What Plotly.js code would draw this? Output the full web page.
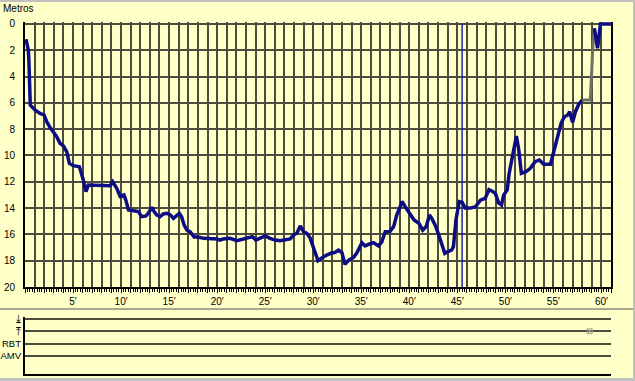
<!DOCTYPE html>
<html>
<head>
<meta charset="utf-8">
<script src="https://cdn.plot.ly/plotly-3.0.1.min.js"></script>
<style>
  html, body { margin: 0; padding: 0; background: #c0c0c0; width: 635px; height: 381px; overflow: hidden; }
  #chart { position: absolute; left: 0; top: 2px; width: 633px; height: 376px; }
</style>
</head>
<body>
<div id="chart"></div>
<script>
// ---- data (minutes / metres) ----
const diveMinutes = [0.1, 0.35, 0.4, 0.45, 0.5, 0.55, 1.04, 1.56, 1.98, 2.26, 2.6, 2.95, 3.3, 3.65, 4.0, 4.34, 4.62, 5.04, 5.66, 6.07, 6.35, 6.6, 6.9, 8.16, 8.85, 9.13, 9.55, 9.9, 10.3, 10.5, 10.77, 11.3, 11.8, 12.15, 12.6, 12.95, 13.2, 13.44, 13.7, 14.06, 14.4, 14.76, 15.1, 15.45, 15.73, 16.07, 16.3, 16.56, 16.84, 17.2, 17.6, 18.0, 18.6, 19.3, 20.0, 20.3, 20.6, 21.35, 22.05, 22.74, 23.26, 23.68, 24.03, 24.48, 25.0, 25.5, 26.04, 26.56, 27.08, 27.6, 27.95, 28.3, 28.65, 29.0, 29.34, 29.7, 29.93, 30.2, 30.5, 30.9, 31.4, 31.95, 32.2, 32.64, 33.0, 33.3, 33.7, 34.2, 34.55, 35.07, 35.4, 35.87, 36.28, 36.8, 37.15, 37.5, 38.0, 38.37, 38.7, 39.06, 39.24, 39.58, 40.1, 40.5, 41.0, 41.4, 41.77, 42.1, 42.36, 42.7, 43.05, 43.4, 43.7, 44.03, 44.4, 44.6, 44.86, 45.2, 45.5, 45.83, 46.35, 46.9, 47.4, 47.9, 48.3, 48.6, 48.96, 49.3, 49.6, 49.83, 50.2, 50.4, 50.76, 51.15, 51.4, 51.67, 52.15, 52.6, 53.1, 53.54, 54.0, 54.7, 55.0, 55.4, 55.8, 56.15, 56.5, 56.7, 57.0, 57.3, 57.64, 58.0];
const diveDepth = [1.16, 2.0, 2.7, 4.0, 5.15, 6.16, 6.54, 6.8, 6.92, 7.43, 7.86, 8.19, 8.57, 9.07, 9.28, 9.71, 10.6, 10.77, 10.85, 11.86, 12.75, 12.24, 12.24, 12.3, 12.3, 12.0, 12.5, 13.1, 13.0, 13.4, 14.14, 14.2, 14.27, 14.65, 14.6, 14.27, 13.94, 14.27, 14.52, 14.65, 14.45, 14.4, 14.5, 14.78, 14.6, 14.4, 14.65, 15.28, 15.67, 15.8, 16.2, 16.2, 16.3, 16.3, 16.35, 16.43, 16.35, 16.3, 16.48, 16.35, 16.25, 16.17, 16.43, 16.3, 16.12, 16.3, 16.43, 16.48, 16.43, 16.35, 16.05, 15.92, 15.36, 15.8, 15.92, 16.3, 16.8, 17.44, 18.0, 17.8, 17.57, 17.4, 17.4, 17.2, 17.4, 18.28, 17.95, 17.75, 17.4, 16.63, 16.88, 16.73, 16.63, 16.88, 16.55, 15.8, 15.77, 15.41, 14.52, 13.9, 13.5, 13.9, 14.52, 14.9, 15.15, 15.67, 15.4, 14.52, 14.8, 15.3, 16.0, 16.8, 17.44, 17.3, 17.2, 16.93, 14.9, 13.5, 13.55, 14.0, 14.0, 13.9, 13.4, 13.26, 12.6, 12.7, 12.88, 13.6, 13.76, 13.0, 12.62, 11.36, 9.96, 8.52, 9.58, 11.36, 11.23, 10.98, 10.47, 10.34, 10.67, 10.67, 9.83, 8.69, 7.55, 7.05, 6.92, 6.67, 7.48, 6.67, 6.1, 5.78];
// fast-ascent part (drawn grey)
const ascentMinutes = [58.0, 58.85, 59.1, 59.27];
const ascentDepth = [5.78, 5.78, 1.85, 0.33];
// surface part
const surfaceMinutes = [59.27, 59.6, 59.9, 61.0];
const surfaceDepth = [0.33, 1.85, 0.0, 0.0];
// cursor marker
const cursorMinute = [45.5, 45.5];
const cursorDepth = [0, 20];
// small event mark in lower panel
const eventMinute = [58.78];
const eventRow = [3];

// ---- tick labels ----
const xLabelMinutes = [5, 10, 15, 20, 25, 30, 35, 40, 45, 50, 55, 60];
const xLabels = ["5′", "10′", "15′", "20′", "25′", "30′", "35′", "40′", "45′", "50′", "55′", "60′"];
const depthTicks = [0, 2, 4, 6, 8, 10, 12, 14, 16, 18, 20];
const panelRows = [4, 3, 2, 1];
const panelLabels = ["⤓", "⤒", "RBT", "AMV"];

const minuteTicks = [];
for (let m = 0; m <= 61; m++) minuteTicks.push(m);
const minuteText = minuteTicks.map(m => {
  const i = xLabelMinutes.indexOf(m);
  return i >= 0 ? xLabels[i] : "";
});
const panelText = panelLabels.map((t, i) => i < 2
  ? "<span style='font-family:DejaVu Sans;font-size:10.5px'>" + t + "</span>"
  : "<span style='font-size:9.5px'>" + t + "</span>");

const gridCol = '#4c4c3c';
const traces = [
  { x: cursorMinute, y: cursorDepth, mode: 'lines', line: { color: '#2424b4', width: 1.5 }, hoverinfo: 'skip' },
  { x: diveMinutes, y: diveDepth, mode: 'lines', line: { color: '#0c0c84', width: 3.5 } },
  { x: ascentMinutes, y: ascentDepth, mode: 'lines', line: { color: '#707060', width: 3 } },
  { x: surfaceMinutes, y: surfaceDepth, mode: 'lines', line: { color: '#0c0c84', width: 3.5 } },
  { x: eventMinute, y: eventRow, xaxis: 'x2', yaxis: 'y2', mode: 'markers',
    marker: { symbol: 'square-x-open', size: 5, color: '#a8a898', line: { width: 1, color: '#a8a898' } } }
];

const layout = {
  width: 633, height: 376,
  margin: { l: 25, r: 22, t: 20, b: 4 },
  paper_bgcolor: '#ffffc8', plot_bgcolor: '#ffffc8',
  showlegend: false,
  font: { family: 'Liberation Sans, Arial, sans-serif', size: 10, color: '#000' },
  title: { text: 'Metros', x: 3 / 633, xanchor: 'left', xref: 'container', y: 1 - 6 / 376, yanchor: 'middle', yref: 'container', font: { size: 10, color: '#000' } },
  xaxis: {
    domain: [0, 1], range: [0, 61], anchor: 'y',
    tickmode: 'array', tickvals: minuteTicks, ticktext: minuteText,
    ticks: 'outside', ticklen: 4, tickwidth: 1, tickcolor: '#000',
    minor: { dtick: 0.25, ticks: 'outside', ticklen: 3, tickwidth: 1, tickcolor: '#000', showgrid: false },
    showgrid: true, gridcolor: gridCol, gridwidth: 2,
    showline: true, linecolor: '#000', linewidth: 2,
    zeroline: false, fixedrange: true
  },
  yaxis: {
    domain: [87 / 352, 1], range: [20, -0.15], anchor: 'x',
    tickmode: 'array', tickvals: depthTicks, ticktext: depthTicks.map(String),
    ticks: '', ticklabelstandoff: 6,
    showgrid: true, gridcolor: gridCol, gridwidth: 2,
    showline: true, mirror: true, linecolor: '#000', linewidth: 2,
    zeroline: false, fixedrange: true
  },
  xaxis2: {
    domain: [0, 1], range: [0, 61], anchor: 'y2',
    showticklabels: false, ticks: '', showgrid: false,
    showline: true, linecolor: '#000', linewidth: 2, zeroline: false
  },
  yaxis2: {
    domain: [0, 57 / 352], range: [-0.46, 4.16], anchor: 'x2',
    tickmode: 'array', tickvals: panelRows, ticktext: panelText,
    ticks: '', ticklabelstandoff: 0,
    showgrid: true, gridcolor: gridCol, gridwidth: 2,
    showline: true, linecolor: '#000', linewidth: 2, zeroline: false
  },
  shapes: [
    { type: 'line', xref: 'paper', yref: 'paper', x0: -25 / 586, x1: 608 / 586, y0: 65 / 352, y1: 65 / 352,
      line: { color: '#a8a890', width: 2 } }
  ]
};

Plotly.newPlot('chart', traces, layout, { displayModeBar: false, staticPlot: true });
</script>
</body>
</html>
